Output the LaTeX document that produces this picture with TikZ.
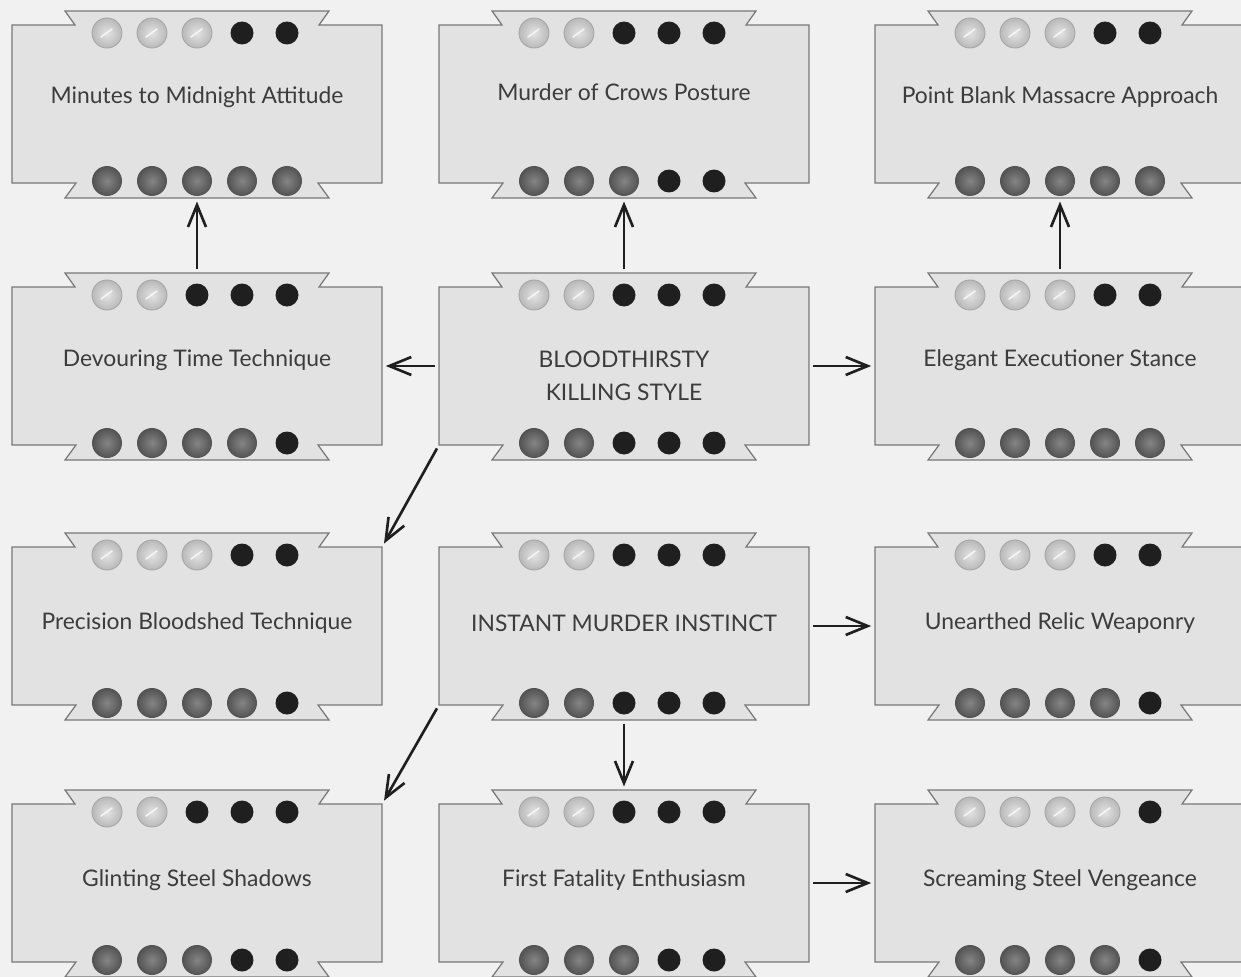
\documentclass[tikz,border=0pt]{standalone}
\usepackage{fontspec}
\setmainfont{Lato}
\usetikzlibrary{arrows.meta}
\definecolor{pagegray}{RGB}{241,241,241}
\definecolor{boxgray}{RGB}{226,226,226}
\definecolor{edgegray}{RGB}{120,120,120}
\definecolor{inkgray}{RGB}{60,60,60}

\tikzset{
  skill/.style={minimum width=7.4cm, minimum height=3.16cm, inner sep=0pt},
  skillshape/.style={fill=boxgray, draw=edgegray, line width=0.7pt},
  title/.style={text=inkgray, font=\fontsize{13}{18.5}\selectfont, align=center},
  lightdot/.style={inner color=gray!22, outer color=gray!55, draw=gray!70, line width=0.5pt},
  greydot/.style={inner color=black!48, outer color=black!68},
  blackdot/.style={fill=black!88},
  glint/.style={white!92!gray, line width=0.9pt, line cap=round},
  link/.style={-{Straight Barb[length=4.4mm,width=3.6mm]}, line width=1.5pt, black!88,
    shorten <=2pt, shorten >=2pt}
}

% one skill card: name, x, y, title, light dots above, grey dots below, title shift
\newcommand{\skillbox}[7]{%
  \begin{scope}[shift={(#2,#3)}]
    \filldraw[skillshape] (-185,-79) -- (-122,-79) -- (-132,-93) -- (132,-93) -- (122,-79)
      -- (185,-79) -- (185,79) -- (121,79) -- (132,94) -- (-132,94) -- (-121,79)
      -- (-185,79) -- cycle;
    \node[skill] (#1) at (0,0) {};
    \node[title] (#1-title) at (0,#7) {#4};
    \coordinate (#1-top) at (0,-93);
    \coordinate (#1-bot) at (0,94);
    \foreach \i in {1,...,5}{
      \ifnum\i>#5
        \fill[blackdot] (45*\i-135,-71) circle (0.23cm);
      \else
        \shadedraw[lightdot] (45*\i-135,-71) circle (0.3cm);
        \draw[glint] (45*\i-141,-67) -- (45*\i-130,-75);
      \fi
      \ifnum\i>#6
        \fill[blackdot] (45*\i-135,77) circle (0.23cm);
      \else
        \shade[greydot] (45*\i-135,77) circle (0.3cm);
      \fi
    }
  \end{scope}}

\begin{document}
\begin{tikzpicture}[x=0.02cm, y=-0.02cm]
  \clip (0,0) rectangle (1241,977);
  \fill[pagegray] (0,0) rectangle (1241,977);

  % top row
  \skillbox{minutes}{197}{104}{Minutes to Midnight Attitude}{3}{5}{-7}
  \skillbox{crows}{624}{104}{Murder of Crows Posture}{2}{3}{-12}
  \skillbox{pointblank}{1060}{104}{Point Blank Massacre Approach}{3}{5}{-7}

  % second row
  \skillbox{devouring}{197}{366}{Devouring Time Technique}{2}{4}{-6}
  \skillbox{bloodthirsty}{624}{366}{BLOODTHIRSTY\\KILLING STYLE}{2}{2}{10}
  \skillbox{elegant}{1060}{366}{Elegant Executioner Stance}{3}{5}{-6}

  % third row
  \skillbox{precision}{197}{626}{Precision Bloodshed Technique}{3}{4}{-3}
  \skillbox{instant}{624}{626}{INSTANT MURDER INSTINCT}{2}{2}{-3}
  \skillbox{unearthed}{1060}{626}{Unearthed Relic Weaponry}{3}{4}{-3}

  % bottom row
  \skillbox{glinting}{197}{883}{Glinting Steel Shadows}{2}{3}{-3}
  \skillbox{firstfatality}{624}{883}{First Fatality Enthusiasm}{2}{3}{-3}
  \skillbox{screaming}{1060}{883}{Screaming Steel Vengeance}{4}{4}{-3}

  % arrows
  \draw[link] (devouring-top) -- (minutes-bot);
  \draw[link] (bloodthirsty-top) -- (crows-bot);
  \draw[link] (elegant-top) -- (pointblank-bot);
  \draw[link] (bloodthirsty.west) -- (devouring.east);
  \draw[link] (bloodthirsty.east) -- (elegant.west);
  \draw[link] (bloodthirsty.south west) -- (precision.north east);
  \draw[link] (instant.east) -- (unearthed.west);
  \draw[link] (instant.south west) -- (glinting.north east);
  \draw[link] (instant-bot) -- (firstfatality-top);
  \draw[link] (firstfatality.east) -- (screaming.west);
\end{tikzpicture}
\end{document}
